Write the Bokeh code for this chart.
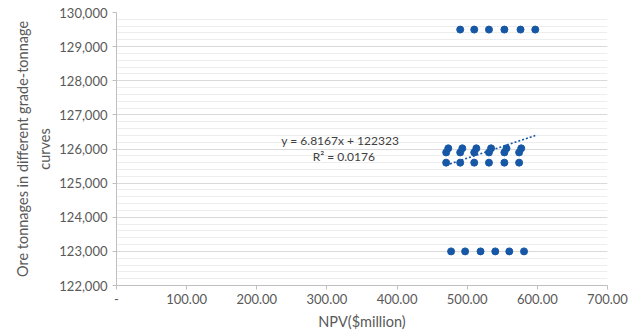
from bokeh.plotting import figure
from bokeh.models import Range1d, NumeralTickFormatter, CustomJSTickFormatter, Label, Title, FixedTicker
from bokeh.embed import file_html
from bokeh.resources import INLINE

# Data
top_x = [490, 510, 531, 553, 576, 597]
top_y = [129500, 129500, 129500, 129500, 129500, 129500]
mid_hi_x = [470, 490, 510, 531, 553, 574]
mid_hi_y = [125900, 125900, 125900, 125900, 125900, 125900]
mid_hi2_x = [473, 493, 513, 534, 556, 577]
mid_hi2_y = [126020, 126020, 126020, 126020, 126020, 126020]
mid_lo_x = [470, 490, 510, 531, 553, 574]
mid_lo_y = [125600, 125600, 125600, 125600, 125600, 125600]
bot_x = [477, 497, 519, 540, 560, 581]
bot_y = [123000, 123000, 123000, 123000, 123000, 123000]

slope = 6.8167
intercept = 122323
r2 = 0.0176

x_ticks = [0, 100, 200, 300, 400, 500, 600, 700]
y_ticks = [122000, 123000, 124000, 125000, 126000, 127000, 128000, 129000, 130000]

FONT = "Lato"
TXT = "#595959"
DOT = "#1658a6"

p = figure(width=634, height=334, output_backend="svg", toolbar_location=None,
           x_range=Range1d(0, 700), y_range=Range1d(122000, 130000),
           min_border_left=116, min_border_right=27, min_border_top=12, min_border_bottom=49)
p.outline_line_color = None
p.background_fill_color = "white"

# grid
p.xgrid.grid_line_color = None
p.ygrid.grid_line_color = "#d9d9d9"
p.ygrid.grid_line_width = 1
p.ygrid.minor_grid_line_color = "#ededed"
p.yaxis.ticker = FixedTicker(ticks=y_ticks, minor_ticks=list(range(122000, 130001, 200)))
p.xaxis.ticker = FixedTicker(ticks=x_ticks)

for ax in (p.xaxis, p.yaxis):
    ax.axis_line_color = "#bfbfbf"
    ax.major_tick_line_color = "#bfbfbf"
    ax.minor_tick_line_color = None
    ax.major_tick_in = 0
    ax.major_tick_out = 4
    ax.major_label_text_font = FONT
    ax.major_label_text_font_size = "13px"
    ax.major_label_text_color = TXT
    ax.axis_label_text_font = FONT
    ax.axis_label_text_font_style = "normal"
    ax.axis_label_text_color = TXT
    ax.axis_label_text_font_size = "14.5px"

p.yaxis.formatter = NumeralTickFormatter(format="0,0")
p.xaxis.formatter = CustomJSTickFormatter(code="return tick == 0 ? '-' : tick.toFixed(2);")
p.xaxis.axis_label = "NPV($million)"
p.xaxis.major_label_standoff = 4
p.xaxis.axis_label_standoff = 6
p.yaxis.major_label_standoff = 5

# y axis label in two lines
p.add_layout(Title(text="curves", align="center", text_font=FONT, text_font_size="14.5px",
                   text_font_style="normal", text_color=TXT, standoff=7), "left")
p.add_layout(Title(text="Ore tonnages in different grade-tonnage", align="center", text_font=FONT,
                   text_font_size="14.5px", text_font_style="normal", text_color=TXT, standoff=0), "left")

# points
for xs, ys in ((top_x, top_y), (mid_hi_x, mid_hi_y), (mid_hi2_x, mid_hi2_y), (mid_lo_x, mid_lo_y), (bot_x, bot_y)):
    p.scatter(xs, ys, size=7, color=DOT, line_color=DOT)

# trendline
all_x = top_x + mid_hi_x + mid_hi2_x + mid_lo_x + bot_x
x0, x1 = min(all_x), max(all_x)
p.line([x0, x1], [slope * x0 + intercept, slope * x1 + intercept], line_color=DOT,
       line_width=1.6, line_dash="2 2")

# trendline equation
p.add_layout(Label(x=319, y=126240, text=f"y = {slope}x + {intercept}", text_align="center",
                   text_baseline="middle", text_font=FONT, text_font_size="12px", text_color="#404040"))
p.add_layout(Label(x=324, y=125770, text=f"R² = {r2}", text_align="center",
                   text_baseline="middle", text_font=FONT, text_font_size="12px", text_color="#404040"))

open("out.html", "w").write(file_html(p, INLINE))
